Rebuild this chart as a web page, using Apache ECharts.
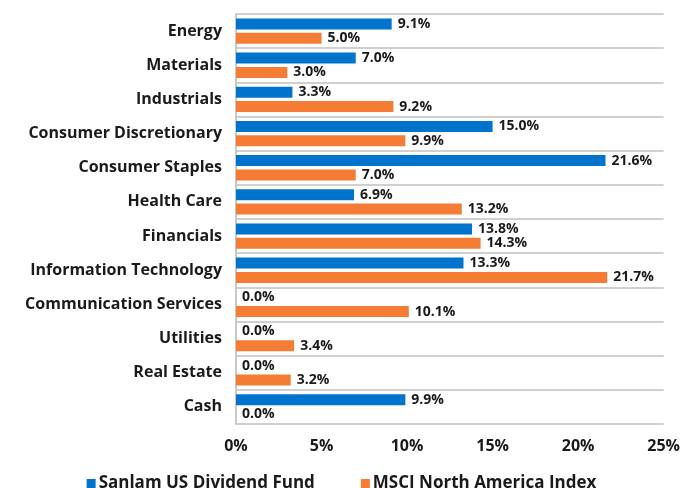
<!DOCTYPE html>
<html><head><meta charset="utf-8">
<script src="https://cdn.jsdelivr.net/npm/echarts@6/dist/echarts.min.js"></script>
<style>html,body{margin:0;padding:0;background:#fff}#c{width:683px;height:488px}</style>
</head><body><div id="c"></div>
<script>
const categories = ["Energy","Materials","Industrials","Consumer Discretionary","Consumer Staples","Health Care","Financials","Information Technology","Communication Services","Utilities","Real Estate","Cash"];
const fundValues = [9.1,7.0,3.3,15.0,21.6,6.9,13.8,13.3,0.0,0.0,0.0,9.9];
const indexValues = [5.0,3.0,9.2,9.9,7.0,13.2,14.3,21.7,10.1,3.4,3.2,0.0];
const seriesNames = ["Sanlam US Dividend Fund","MSCI North America Index"];
const FONT = "'Open Sans', Lato, sans-serif";
const chart = echarts.init(document.getElementById('c'));
const lbl = {show:true, position:'right', distance:6, color:'#1a1a1a', fontFamily:FONT, fontWeight:'bold', fontSize:14, formatter:p=>p.value.toFixed(1)+'%'};
chart.setOption({
  animation:false,
  grid:{left:236, right:19, top:14, bottom:64, containLabel:false},
  legend:{top:470, left:'center', itemWidth:9, itemHeight:9, itemGap:46, icon:'rect',
    textStyle:{fontFamily:FONT, fontWeight:'bold', fontSize:17, color:'#1a1a1a', padding:[0,0,0,-2]}},
  xAxis:{type:'value', min:0, max:25, interval:5, splitLine:{show:false}, axisLine:{show:false}, axisTick:{show:false},
    axisLabel:{formatter:'{value}%', margin:14, fontFamily:FONT, fontWeight:'bold', fontSize:16, color:'#1a1a1a'}},
  yAxis:{type:'category', data:categories, inverse:true, axisTick:{show:false},
    axisLine:{show:true, lineStyle:{color:'#c8c8c8', width:2}},
    splitLine:{show:true, lineStyle:{color:'#d0d0d0', width:2}},
    axisLabel:{margin:14, fontFamily:FONT, fontWeight:'bold', fontSize:16, color:'#1a1a1a'}},
  series:[
    {name:seriesNames[0], type:'bar', data:fundValues, barWidth:11, barGap:'30%', itemStyle:{color:'#0073CC'}, label:lbl},
    {name:seriesNames[1], type:'bar', data:indexValues, barWidth:11, itemStyle:{color:'#F47C35'}, label:lbl}
  ]
});
</script></body></html>
